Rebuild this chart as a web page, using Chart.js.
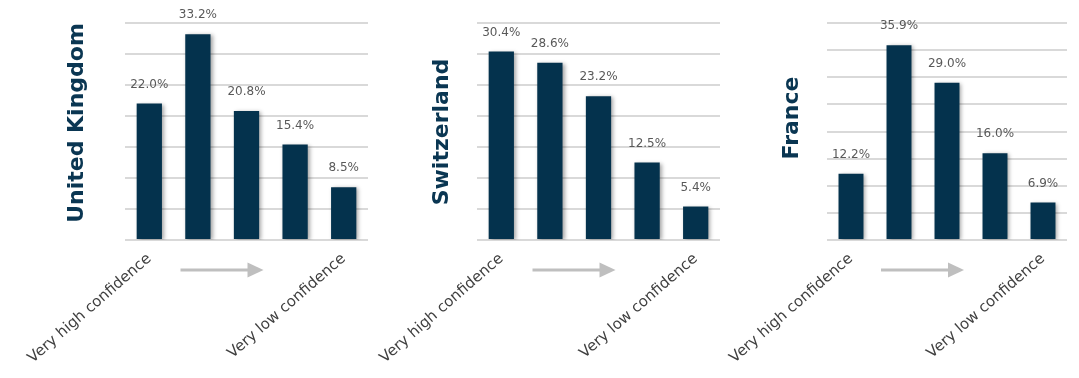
<!DOCTYPE html>
<html>
<head>
<meta charset="utf-8">
<script src="https://cdn.jsdelivr.net/npm/chart.js@4.4.0/dist/chart.umd.min.js"></script>
<style>
  body { margin: 0; background: #fff; }
  .wrap { position: relative; width: 1079px; height: 378px; overflow: hidden; }
  .box { position: absolute; top: 0; height: 378px; }
</style>
</head>
<body>
<div class="wrap">
  <div class="box" style="left:0;width:380px"><canvas id="uk"></canvas></div>
  <div class="box" style="left:360px;width:380px"><canvas id="ch"></canvas></div>
  <div class="box" style="left:720px;width:359px"><canvas id="fr"></canvas></div>
</div>
<script>
const categories = ['Very high confidence', '', '', '', 'Very low confidence'];
const ukValues = [22.0, 33.2, 20.8, 15.4, 8.5];
const chValues = [30.4, 28.6, 23.2, 12.5, 5.4];
const frValues = [12.2, 35.9, 29.0, 16.0, 6.9];

const NAVY = '#04324d';
const FONT = "'DejaVu Sans', sans-serif";

// soft drop shadow under the bars
const barShadow = {
  id: 'barShadow',
  beforeDatasetsDraw(chart) {
    const ctx = chart.ctx;
    ctx.save();
    ctx.shadowColor = 'rgba(0,0,0,0.35)';
    ctx.shadowBlur = 4;
    ctx.shadowOffsetX = 2;
    ctx.shadowOffsetY = 1;
  },
  afterDatasetsDraw(chart) {
    chart.ctx.restore();
  }
};

// vertical country name on the left
const sideTitle = {
  id: 'sideTitle',
  afterDraw(chart, args, opts) {
    const ctx = chart.ctx;
    ctx.save();
    ctx.translate(opts.x, opts.y);
    ctx.rotate(-Math.PI / 2);
    ctx.font = 'bold 22px ' + FONT;
    ctx.fillStyle = '#0a3652';
    ctx.textAlign = 'center';
    ctx.textBaseline = 'middle';
    ctx.fillText(opts.text, 0, 0);
    ctx.restore();
  }
};

// percentage above each bar + grey arrow between the end labels
const barExtras = {
  id: 'barExtras',
  afterDraw(chart) {
    const ctx = chart.ctx;
    const meta = chart.getDatasetMeta(0);
    const data = chart.data.datasets[0].data;
    ctx.save();
    ctx.font = '12px ' + FONT;
    ctx.fillStyle = '#595959';
    ctx.textAlign = 'center';
    ctx.textBaseline = 'middle';
    meta.data.forEach((bar, i) => {
      ctx.fillText(data[i].toFixed(1) + '%', bar.x, bar.y - 19);
    });

    const x = chart.scales.x;
    const mid = x.getPixelForValue(2);
    const y = chart.chartArea.bottom + 30;
    const x0 = mid - 66, x1 = mid + 17;
    ctx.strokeStyle = '#bfbfbf';
    ctx.fillStyle = '#bfbfbf';
    ctx.lineWidth = 3;
    ctx.beginPath();
    ctx.moveTo(x0, y);
    ctx.lineTo(x1 - 15, y);
    ctx.stroke();
    ctx.beginPath();
    ctx.moveTo(x1 - 16, y - 7.5);
    ctx.lineTo(x1, y);
    ctx.lineTo(x1 - 16, y + 7.5);
    ctx.closePath();
    ctx.fill();
    ctx.restore();
  }
};

function makeChart(id, title, values, yMax, axisWidth, titleX, titleY, rightPad) {
  return new Chart(document.getElementById(id), {
    type: 'bar',
    data: {
      labels: categories,
      datasets: [{
        data: values,
        backgroundColor: NAVY,
        barPercentage: 0.52,
        categoryPercentage: 1
      }]
    },
    options: {
      responsive: true,
      maintainAspectRatio: false,
      animation: false,
      layout: { padding: { top: 23, right: rightPad, left: 0, bottom: 0 } },
      plugins: {
        legend: { display: false },
        tooltip: { enabled: false },
        sideTitle: { text: title, x: titleX, y: titleY }
      },
      scales: {
        x: {
          grid: { display: false },
          border: { display: false },
          ticks: {
            autoSkip: false,
            minRotation: 41,
            maxRotation: 41,
            padding: 2,
            color: '#404040',
            font: { family: FONT, size: 15 }
          },
          afterFit(scale) {
            // labels may run past the plot edges; keep the plot width fixed
            scale.height = 138;
            scale.paddingLeft = 0;
            scale.paddingRight = 0;
          }
        },
        y: {
          min: 0,
          max: yMax,
          ticks: { display: false, stepSize: 5 },
          grid: { color: '#d9d9d9', lineWidth: 2, drawTicks: false },
          border: { display: false },
          afterFit(scale) { scale.width = axisWidth; }
        }
      }
    },
    plugins: [barShadow, barExtras, sideTitle]
  });
}

makeChart('uk', 'United Kingdom', ukValues, 35, 125, 77, 123, 12);
makeChart('ch', 'Switzerland', chValues, 35, 117, 82, 132, 20);
makeChart('fr', 'France', frValues, 40, 107, 72, 118, 12);
</script>
</body>
</html>
